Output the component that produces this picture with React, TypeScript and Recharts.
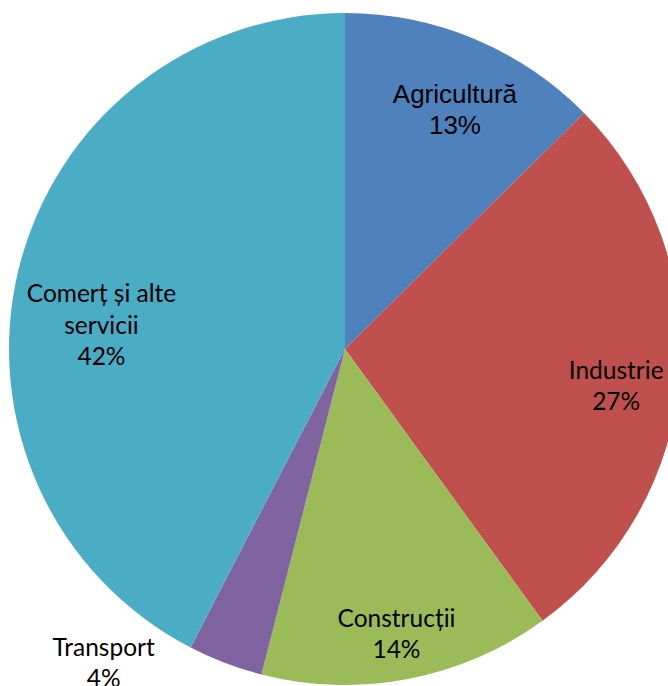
import { PieChart, Pie, Cell } from "recharts";

const categories = ["Agricultură", "Industrie", "Construcții", "Transport", "Comerț și alte servicii"];
const shares = [12.6, 27.4, 14.0, 3.6, 42.4];

// label text wrapped the way the original chart breaks it
const labelLines: Record<string, string[]> = {
  "Comerț și alte servicii": ["Comerț și alte", "servicii"],
};

const colors = ["#4F81BD", "#C0504D", "#9BBB59", "#8064A2", "#4BACC6"];

// label placement: radius as fraction of outer radius, angle nudge (deg, clockwise)
const labelPlace: Record<string, { r: number; shift: number; font: string }> = {
  "Agricultură": { r: 0.802, shift: 1.4, font: "'Liberation Sans', Arial, sans-serif" },
  Industrie: { r: 0.812, shift: 1.6, font: "Lato, sans-serif" },
  "Construcții": { r: 0.841, shift: 0.3, font: "Lato, sans-serif" },
  Transport: { r: 1.162, shift: 17.3, font: "Lato, sans-serif" },
  "Comerț și alte servicii": { r: 0.738, shift: -2.8, font: "Lato, sans-serif" },
};

const data = categories.map((name, i) => ({ name, value: shares[i] }));

const LINE_H = 31.5;

const renderLabel = (props: any) => {
  const { cx, cy, midAngle, outerRadius, name, percent } = props;
  const place = labelPlace[name];
  const theta = ((90 - midAngle + place.shift) * Math.PI) / 180;
  const r = outerRadius * place.r;
  const x = cx + r * Math.sin(theta);
  const y = cy - r * Math.cos(theta);
  const lines = [...(labelLines[name] || [name]), `${Math.round(percent * 100)}%`];
  return (
    <text
      x={x}
      y={y}
      textAnchor="middle"
      fill="#000"
      fontFamily={place.font}
      fontSize={name === "Agricultură" ? 26 : 24.5}
    >
      {lines.map((l, i) => (
        <tspan key={i} x={x} y={y + i * LINE_H}>
          {l}
        </tspan>
      ))}
    </text>
  );
};

export default function App() {
  return (
    <div
      style={{
        position: "fixed",
        top: 0,
        left: 0,
        width: 668,
        height: 686,
        overflow: "hidden",
        background: "#fff",
      }}
    >
      <PieChart width={668} height={686} margin={{ top: 0, right: 0, bottom: 0, left: 0 }}>
        <Pie
          data={data}
          dataKey="value"
          nameKey="name"
          cx={345}
          cy={349}
          outerRadius={336}
          startAngle={90}
          endAngle={-270}
          stroke="none"
          label={renderLabel}
          labelLine={false}
          isAnimationActive={false}
        >
          {data.map((d, i) => (
            <Cell key={d.name} fill={colors[i]} stroke="none" />
          ))}
        </Pie>
      </PieChart>
    </div>
  );
}
